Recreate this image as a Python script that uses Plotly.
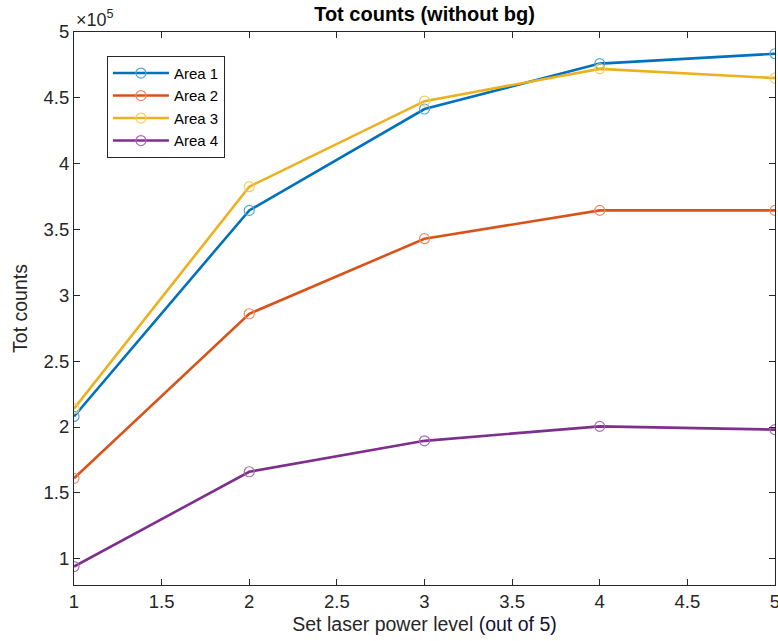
import plotly.graph_objects as go

# Laser power levels and total counts (background subtracted) per area
power_levels = [1, 2, 3, 4, 5]
area1 = [208000, 364500, 441500, 476000, 483500]
area2 = [161000, 286000, 343000, 364500, 364500]
area3 = [214000, 382500, 447500, 472000, 465000]
area4 = [94000, 166000, 189500, 200500, 198000]

series_names = ["Area 1", "Area 2", "Area 3", "Area 4"]
y_ticks = [100000, 150000, 200000, 250000, 300000, 350000, 400000, 450000, 500000]
y_tick_text = ["1", "1.5", "2", "2.5", "3", "3.5", "4", "4.5", "5"]
x_ticks = [1, 1.5, 2, 2.5, 3, 3.5, 4, 4.5, 5]
x_tick_text = ["1", "1.5", "2", "2.5", "3", "3.5", "4", "4.5", "5"]

colors = ["#0072BD", "#D95319", "#EDB120", "#7E2F8E"]
marker_colors = ["#4DA3E0", "#EE8A63", "#F7CB5E", "#A866B8"]

fig = go.Figure()
for name, ys, c, mc in zip(series_names, [area1, area2, area3, area4], colors, marker_colors):
    fig.add_trace(go.Scatter(
        x=power_levels, y=ys, name=name, mode="lines+markers",
        line=dict(color=c, width=2.6),
        marker=dict(symbol="circle-open", size=10, color=mc, line=dict(width=1.2)),
    ))

font_family = "Liberation Sans, Arial, sans-serif"
axis_common = dict(
    showgrid=False, zeroline=False, showline=True, linecolor="#262626", linewidth=1,
    mirror="ticks", ticks="inside", ticklen=6, tickcolor="#262626",
    tickfont=dict(family=font_family, size=18.5, color="#262626"),
    automargin=False, ticklabeloverflow="allow",
)

fig.update_layout(
    template="none",
    width=778, height=641,
    margin=dict(l=74, r=3, t=32, b=56),
    paper_bgcolor="white", plot_bgcolor="white",
    font=dict(family=font_family, color="#262626"),
    title=dict(text="<b>Tot counts (without bg)</b>", x=(74 + 775) / 2 / 778, xanchor="center",
               y=1 - 14 / 641, yanchor="middle", font=dict(size=20, color="#000000")),
    xaxis=dict(range=[1, 5], tickvals=x_ticks, ticktext=x_tick_text,
               title=dict(text="Set laser power level <span style='color:#101038'>(out of 5)</span>",
                          font=dict(size=19.5, color="#262626"), standoff=6),
               **axis_common),
    yaxis=dict(range=[80000, 500000], tickvals=y_ticks, ticktext=y_tick_text,
               title=dict(text="Tot counts", font=dict(size=19.5, color="#262626"), standoff=10),
               **axis_common),
    legend=dict(x=0.047, y=0.957, xanchor="left", yanchor="top",
                bordercolor="#262626", borderwidth=1, bgcolor="white",
                font=dict(family=font_family, size=15, color="#000000"),
                tracegroupgap=0, itemwidth=56),
    showlegend=True,
)

fig.add_annotation(
    text="\u00d710<sup>5</sup>", xref="paper", yref="paper", x=0, y=1,
    xanchor="left", yanchor="bottom", showarrow=False, yshift=0,
    font=dict(family=font_family, size=18, color="#262626"),
)

fig.write_html("out.html")
